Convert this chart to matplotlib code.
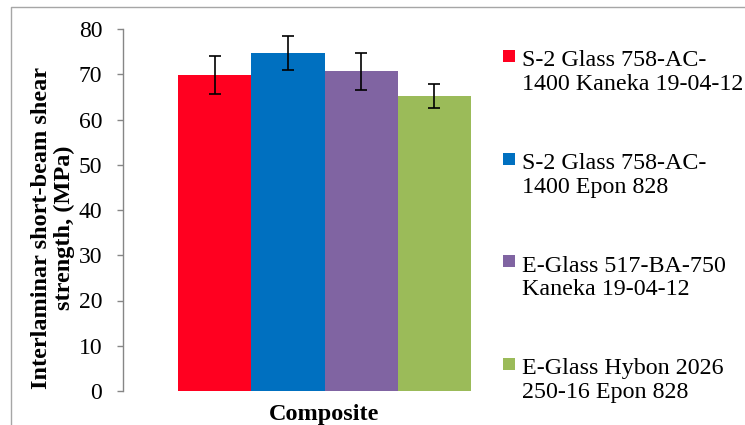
import matplotlib
matplotlib.use("Agg")
import matplotlib.pyplot as plt
from matplotlib.patches import Rectangle
from matplotlib.lines import Line2D

category = "Composite"
series = ["S-2 Glass 758-AC-\n1400 Kaneka 19-04-12",
          "S-2 Glass 758-AC-\n1400 Epon 828",
          "E-Glass 517-BA-750\nKaneka 19-04-12",
          "E-Glass Hybon 2026\n250-16 Epon 828"]
values = [69.8, 74.7, 70.7, 65.2]
errors = [4.2, 3.7, 4.1, 2.7]
colors = ["#FF0020", "#0070C0", "#8064A2", "#9BBB59"]
yticks = [0, 10, 20, 30, 40, 50, 60, 70, 80]

plt.rcParams['font.family'] = 'serif'
plt.rcParams['font.serif'] = ['Liberation Serif']

W, H = 745, 425
fig = plt.figure(figsize=(W / 100, H / 100), dpi=100)

def fx(px):
    return px / W

def fy(py):
    return 1 - py / H

ax = fig.add_axes([fx(123), fy(391), fx(526) - fx(123), fy(29) - fy(391)])

n = len(values)
offsets = [i - (n - 1) / 2 for i in range(n)]
ax.bar(offsets, values, width=1.0, color=colors, yerr=errors,
       error_kw=dict(ecolor='black', elinewidth=1.2, capsize=4.5, capthick=1.2))

ax.set_xlim(-2.75, 2.75)
ax.set_ylim(0, 80)
ax.set_yticks(yticks)
ax.set_xticks([])
for s in ['top', 'right', 'bottom']:
    ax.spines[s].set_visible(False)
ax.spines['left'].set_color('#868686')
ax.spines['left'].set_linewidth(1.0)
ax.tick_params(axis='y', direction='out', length=4, width=1.0, color='#868686',
               labelsize=17, pad=11)

# x category label
fig.text(fx(324.5), fy(420), category, ha='center', va='baseline',
         fontsize=17.5, fontweight='bold')

# y label
fig.text(fx(53), fy(228), "Interlaminar short-beam shear\nstrength, (MPa)",
         rotation=90, ha='center', va='center', multialignment='center',
         fontsize=17.5, fontweight='bold', linespacing=1.1)

# legend
base0 = 62
step = 102.7
line_gap = 28
for i, (lab, col) in enumerate(zip(series, colors)):
    b = base0 + i * step
    fig.patches.append(Rectangle((fx(503), fy(b)), fx(12), 12 / H,
                                 transform=fig.transFigure, facecolor=col,
                                 edgecolor='none'))
    nl = lab.count("\n")
    fig.text(fx(522), fy(b + nl * line_gap), lab, ha='left', va='baseline',
             fontsize=17.3, linespacing=1.17)

# figure border (left and top)
fig.lines.append(Line2D([fx(11), fx(11), 1.0], [0.0, fy(7), fy(7)],
                        transform=fig.transFigure, color='#A6A6A6', lw=1.0))

fig.savefig("out.png", dpi=100)
